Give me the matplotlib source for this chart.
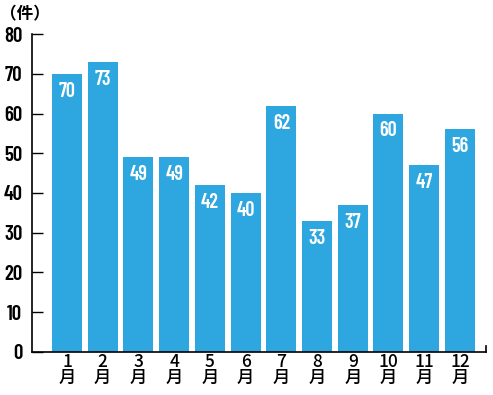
import matplotlib
matplotlib.use("Agg")
import matplotlib.pyplot as plt

months = ["1", "2", "3", "4", "5", "6", "7", "8", "9", "10", "11", "12"]
values = [70, 73, 49, 49, 42, 40, 62, 33, 37, 60, 47, 56]
yticks = [0, 10, 20, 30, 40, 50, 60, 70, 80]
unit_label = "（件）"

num_family = ['Barlow Condensed', 'DejaVu Sans']
plt.rcParams['font.family'] = num_family

fig = plt.figure(figsize=(4.93, 3.95), dpi=100)
ax = fig.add_axes([0.0649, 0.1089, 0.9209, 0.805])
color = "#2ea7e0"
x = list(range(len(months)))
ax.bar(x, values, width=0.84, color=color, zorder=2)
for xi, v in zip(x, values):
    ax.text(xi, v - 4.4, str(v), ha="center", va="center", color="white",
            fontsize=14.5, fontweight="semibold", family=num_family)

ax.set_xlim(-0.98, 11.73)
ax.set_ylim(0, 80)
ax.set_yticks(yticks)
ax.set_yticklabels([str(t) for t in yticks], fontsize=15, fontweight="semibold")
ax.tick_params(axis="y", direction="in", length=8, width=1, pad=7)
ax.set_xticks(x)
ax.set_xticklabels([m + "\n月" for m in months], fontsize=12.5, linespacing=0.85,
                   family=['Noto Sans CJK JP', 'DejaVu Sans'], fontweight="medium")
ax.tick_params(axis="x", length=0, pad=1)
for s in ["top", "right"]:
    ax.spines[s].set_visible(False)
for s in ["left", "bottom"]:
    ax.spines[s].set_linewidth(1.2)
ax.plot([1, 1], [0, 0.02], transform=ax.transAxes, color="black", lw=1.2, clip_on=False)
fig.text(0.0, 0.963, unit_label, fontsize=12, fontweight="bold", ha="left", va="center",
         family=['Noto Sans CJK JP', 'DejaVu Sans'])
fig.savefig("out.png", dpi=100)
